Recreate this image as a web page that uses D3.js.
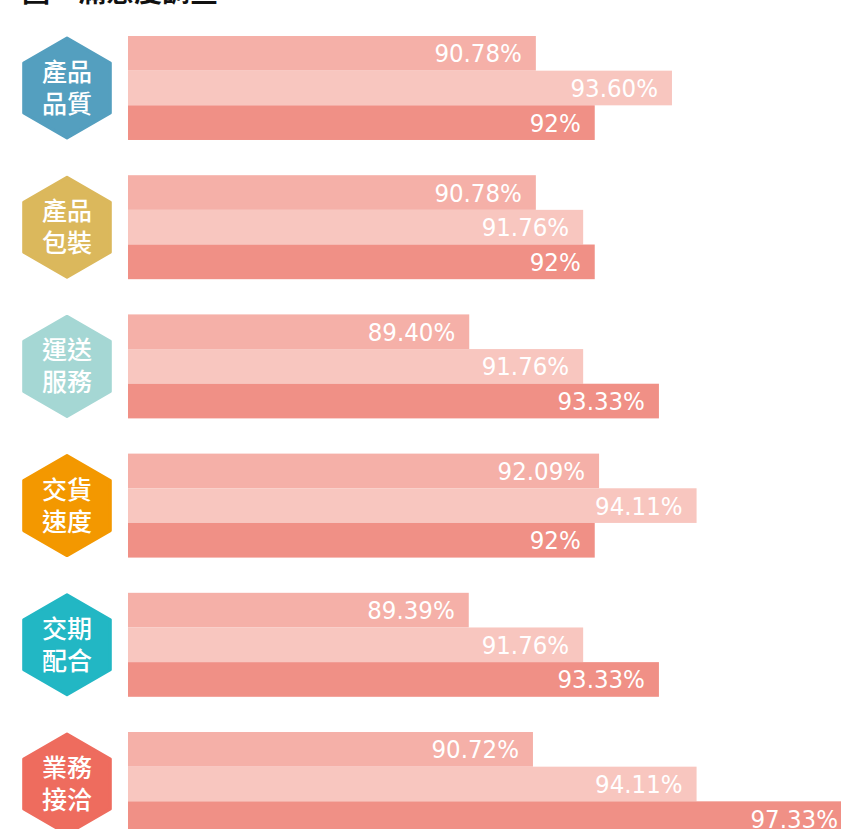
<!DOCTYPE html>
<html>
<head>
<meta charset="utf-8">
<script src="https://cdn.jsdelivr.net/npm/d3@7"></script>
<style>
  html, body { margin: 0; padding: 0; background: #fff; overflow: hidden; }
  svg { display: block; }
</style>
</head>
<body>
<svg id="chart" width="841" height="829"></svg>
<script>
// ---- data ----
const title = "圖、滿意度調查";
const categories = ["產品品質", "產品包裝", "運送服務", "交貨速度", "交期配合", "業務接洽"];
const categoryLines = [["產品", "品質"], ["產品", "包裝"], ["運送", "服務"], ["交貨", "速度"], ["交期", "配合"], ["業務", "接洽"]];
const categoryColors = ["#549fbf", "#dbb85c", "#a5d7d4", "#f39800", "#22b7c4", "#ee6c5e"];
const seriesNames = ["第一期", "第二期", "第三期"];
const seriesColors = ["#f5b0a8", "#f8c6bf", "#f09086"];
const series1 = [90.78, 90.78, 89.40, 92.09, 89.39, 90.72];
const series2 = [93.60, 91.76, 91.76, 94.11, 91.76, 94.11];
const series3 = [92, 92, 93.33, 92, 93.33, 97.33];

// ---- chart ----
const svg = d3.select("#chart");
const seriesValues = [series1, series2, series3];

const x = d3.scaleLinear().domain([82.33, 97.33]).range([128, 852]);
const y = d3.scaleBand().domain(categories).range([36, 836]).paddingInner(0.253).paddingOuter(0);
const yi = d3.scaleBand().domain(d3.range(seriesNames.length)).range([0, y.bandwidth()]);

const fmt = v => Number.isInteger(v) ? v + "%" : v.toFixed(2) + "%";

// title (partly cut off at the top, as in the reference)
svg.append("text")
  .attr("x", 22).attr("y", 2)
  .attr("font-family", "'Noto Sans CJK TC', 'Noto Sans CJK SC', sans-serif")
  .attr("font-weight", "bold")
  .attr("font-size", 28)
  .attr("fill", "#111")
  .text(title);

const rows = categories.map((c, i) => ({
  cat: c, lines: categoryLines[i], color: categoryColors[i],
  vals: seriesValues.map(s => s[i])
}));

const g = svg.selectAll("g.row").data(rows).join("g")
  .attr("class", "row")
  .attr("transform", d => `translate(0,${y(d.cat)})`);

// bars
g.selectAll("rect.bar").data(d => d.vals.map((v, k) => ({v, k}))).join("rect")
  .attr("class", "bar")
  .attr("x", x.range()[0])
  .attr("y", d => yi(d.k))
  .attr("width", d => x(d.v) - x.range()[0])
  .attr("height", yi.bandwidth())
  .attr("fill", d => seriesColors[d.k]);

g.selectAll("text.val").data(d => d.vals.map((v, k) => ({v, k}))).join("text")
  .attr("class", "val")
  .attr("x", d => x(d.v) - 14)
  .attr("y", d => yi(d.k) + yi.bandwidth() / 2 + 9)
  .attr("text-anchor", "end")
  .attr("font-family", "'DejaVu Sans Condensed', 'DejaVu Sans', sans-serif")
  .attr("font-size", 25.5)
  .attr("fill", "#fff")
  .text(d => fmt(d.v));

// hexagons
const R = 50;
const hexPts = d3.range(6).map(j => {
  const a = Math.PI / 3 * j - Math.PI / 2;
  return [R * Math.cos(a), R * Math.sin(a)];
});
const hex = g.append("g")
  .attr("transform", `translate(67,${y.bandwidth() / 2})`);
hex.append("polygon")
  .attr("points", hexPts.map(p => p.join(",")).join(" "))
  .attr("fill", d => d.color)
  .attr("stroke", d => d.color)
  .attr("stroke-width", 3)
  .attr("stroke-linejoin", "round");
const ht = hex.append("text")
  .attr("text-anchor", "middle")
  .attr("font-family", "'Noto Sans CJK TC', 'Noto Sans CJK SC', sans-serif")
  .attr("font-size", 25)
  .attr("font-weight", 500)
  .attr("fill", "#fff");
ht.selectAll("tspan").data(d => d.lines).join("tspan")
  .attr("x", 0)
  .attr("y", (d, j) => (j === 0 ? -16 : 16) + 9)
  .text(d => d);
</script>
</body>
</html>
